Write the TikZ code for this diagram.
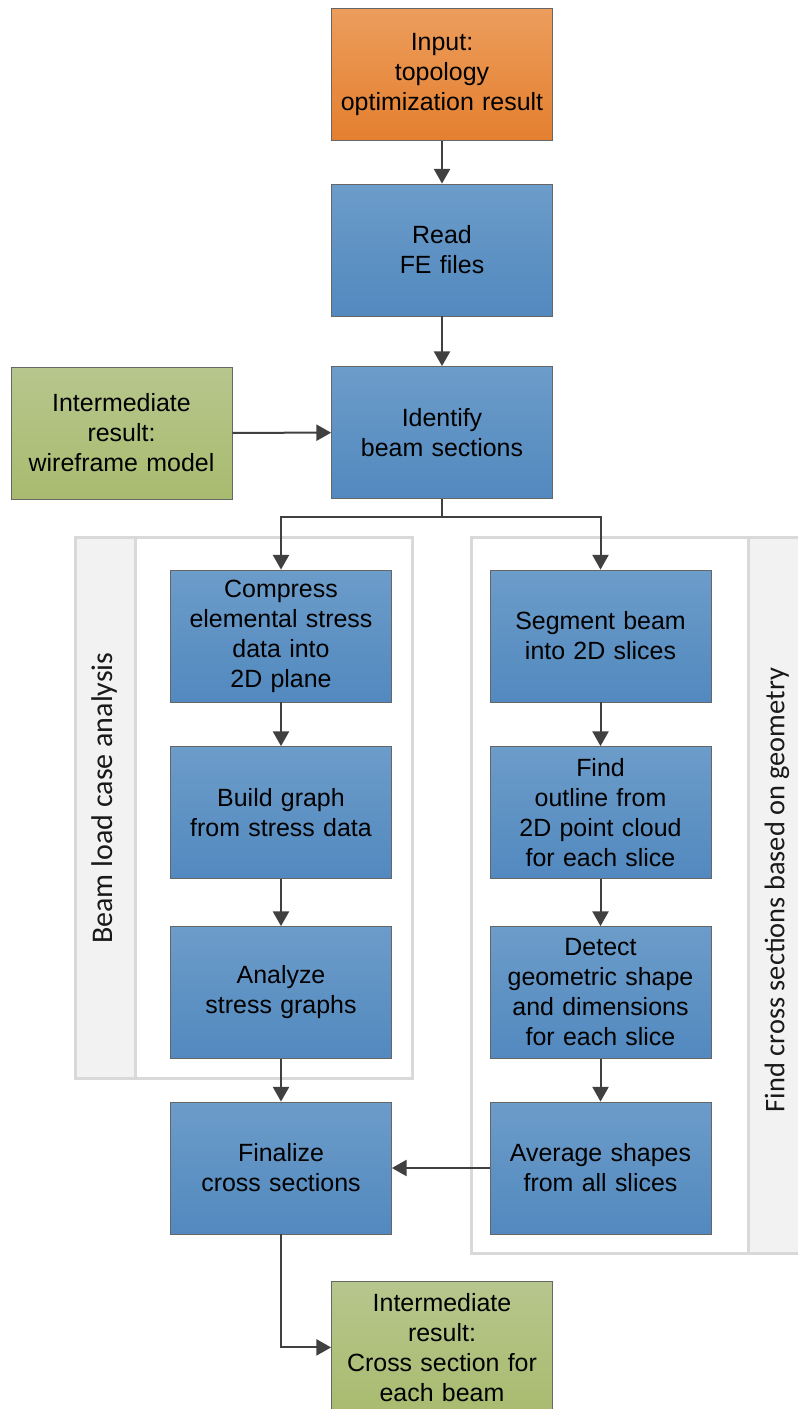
\documentclass[tikz,border=0pt]{standalone}
\usepackage{fontspec}
\setmainfont{Liberation Sans}
\newfontfamily\stripfont{Carlito}
\usetikzlibrary{arrows.meta}
\definecolor{bluetop}{HTML}{6C9CC9}
\definecolor{bluebot}{HTML}{5289BF}
\definecolor{orangetop}{HTML}{EC9D5C}
\definecolor{orangebot}{HTML}{E47F2F}
\definecolor{greentop}{HTML}{B7C68D}
\definecolor{greenbot}{HTML}{A9BB6F}
\definecolor{arrowgray}{HTML}{404040}
\definecolor{framegray}{HTML}{D9D9D9}
\definecolor{stripgray}{HTML}{F2F2F2}
\begin{document}
\begin{tikzpicture}[x=0.75pt,y=-0.75pt,
  box/.style={rectangle, draw=black!60, line width=0.6pt, minimum width=165.75pt,
    minimum height=99pt, inner sep=0pt, align=center, text width=160pt,
    font=\fontsize{18.7}{22.5}\selectfont},
  bluebox/.style={box, top color=bluetop, bottom color=bluebot},
  orangebox/.style={box, top color=orangetop, bottom color=orangebot},
  greenbox/.style={box, top color=greentop, bottom color=greenbot},
  arr/.style={draw=arrowgray, line width=1.5pt, -{Triangle[width=12pt,length=11pt]}},
  plainline/.style={draw=arrowgray, line width=1.5pt},
  frame/.style={draw=framegray, line width=2.25pt},
  striplabel/.style={rotate=90, text=black!90}
]
\useasboundingbox (0,0) rectangle (798,1409);

% groups
\fill[white] (75,537) rectangle (412,1078);
\fill[stripgray] (75,537) rectangle (135,1078);
\draw[frame] (75,537) rectangle (412,1078);
\draw[frame] (135,537) -- (135,1078);
\fill[white] (471,537) rectangle (800,1253);
\fill[stripgray] (748,537) rectangle (800,1253);
\draw[frame] (471,537) rectangle (800,1253);
\draw[frame] (748,537) -- (748,1253);
\node[striplabel, font=\stripfont\fontsize{22.5}{26}\selectfont] (lbl1) at (105,798) {Beam load case analysis};
\node[striplabel, font=\stripfont\fontsize{21.3}{25}\selectfont] (lbl2) at (777,890) {Find cross sections based on geometry};

% boxes
\node[orangebox] (in) at (442,74.5) {Input:\\topology\\optimization result};
\node[bluebox] (read) at (442,250) {Read\\FE files};
\node[bluebox] (ident) at (442,432.5) {Identify\\beam sections};
\node[greenbox] (wire) at (121.5,433) {Intermediate\\result:\\wireframe model};
\node[bluebox] (comp) at (281,636) {Compress\\elemental stress\\data into\\2D plane};
\node[bluebox] (build) at (281,812.5) {Build graph\\from stress data};
\node[bluebox] (anal) at (281,992.5) {Analyze\\stress graphs};
\node[bluebox] (fin) at (281,1168) {Finalize\\cross sections};
\node[bluebox] (seg) at (600.5,636) {Segment beam\\into 2D slices};
\node[bluebox] (find) at (600.5,812.5) {Find\\outline from\\2D point cloud\\for each slice};
\node[bluebox] (det) at (600.5,992.5) {Detect\\geometric shape\\and dimensions\\for each slice};
\node[bluebox] (avg) at (600.5,1168) {Average shapes\\from all slices};
\node[greenbox, anchor=north] (cross) at (442,1281) {Intermediate\\result:\\Cross section for\\each beam};

% connectors
\coordinate (split) at (442,517);
\draw[arr] (in) -- (read);
\draw[arr] (read) -- (ident);
\draw[arr] (wire) -- (ident);
\draw[plainline] (ident.south) -- (split);
\draw[arr] (split) -| (comp.north);
\draw[arr] (split) -| (seg.north);
\draw[arr] (comp) -- (build);
\draw[arr] (build) -- (anal);
\draw[arr] (anal) -- (fin);
\draw[arr] (seg) -- (find);
\draw[arr] (find) -- (det);
\draw[arr] (det) -- (avg);
\draw[arr] (avg) -- (fin);
\draw[arr] (fin.south) |- (cross.west);
\end{tikzpicture}
\end{document}
